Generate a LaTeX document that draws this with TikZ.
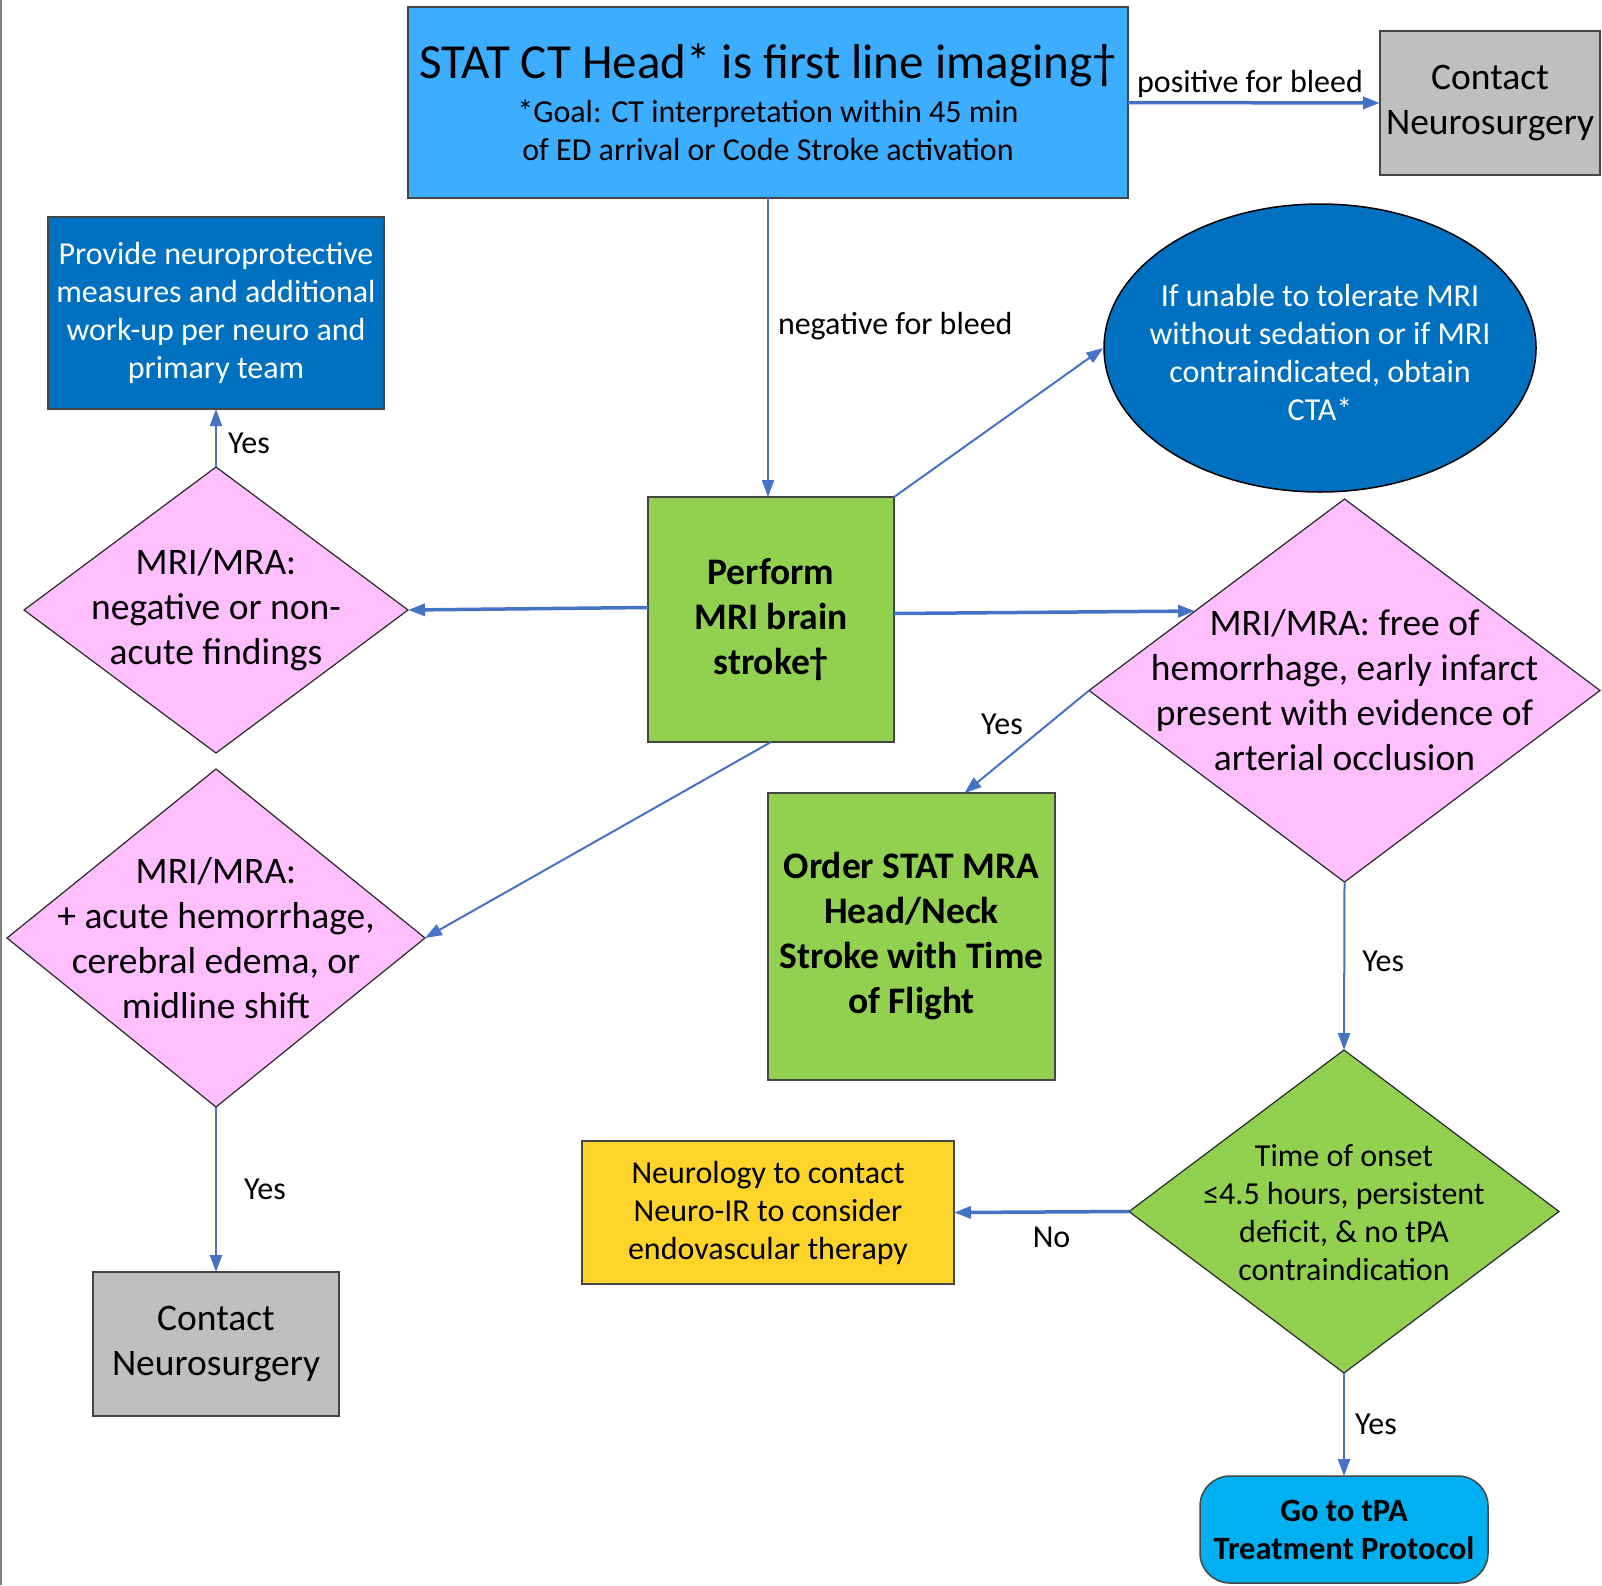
\documentclass[tikz,border=0pt]{standalone}
\usepackage{fontspec}
\setmainfont{Carlito}
\usetikzlibrary{shapes.geometric,arrows.meta}

\begin{document}
\begin{tikzpicture}[x=1pt,y=-1pt,
  box/.style={draw={rgb,255:red,70;green,70;blue,70},line width=1.5pt,inner sep=0pt,outer sep=0pt},
  dia/.style={diamond,draw={rgb,255:red,40;green,40;blue,40},line width=1.2pt,inner sep=0pt,outer sep=0pt},
  big/.style={font=\fontsize{37.5}{45}\selectfont,align=center},
  bigb/.style={font=\fontsize{37.5}{45}\selectfont\bfseries,align=center},
  small/.style={font=\fontsize{32}{38}\selectfont,align=center},
  smallb/.style={font=\fontsize{32.5}{38}\selectfont\bfseries,align=center},
  arr/.style={draw={rgb,255:red,68;green,114;blue,196},line width=2pt,-{Triangle[length=17pt,width=12pt]}},
  thickarr/.style={arr,line width=3.5pt},
  lbl/.style={font=\fontsize{32}{38}\selectfont,inner sep=3pt}]
\useasboundingbox (0,0) rectangle (1602,1585);
\draw[gray,line width=1.5pt] (0.75,0) -- (0.75,1585);

% boxes
\node[box,small,fill={rgb,255:red,61;green,173;blue,255},minimum width=720pt,minimum height=191pt] (ct) at (768,102.5)
  {{\fontsize{49}{49}\selectfont STAT CT Head* is first line imaging†}\\[6pt]*Goal: CT interpretation within 45 min\\of ED arrival or Code Stroke activation};
\node[box,big,fill={rgb,255:red,191;green,191;blue,191},minimum width=220pt,minimum height=144pt] (cn1) at (1490,103) {Contact\\Neurosurgery};
\node[box,small,text=white,fill={rgb,255:red,0;green,112;blue,192},minimum width=336pt,minimum height=192pt] (prov) at (216,313)
  {Provide neuroprotective\\measures and additional\\work-up per neuro and\\primary team};
\node[ellipse,draw=black,line width=1.5pt,inner sep=0pt,fill={rgb,255:red,0;green,112;blue,192},minimum width=432pt,minimum height=288pt] (ell) at (1320,348) {};
\node[small,text=white] (ellt) at (1320,352) {If unable to tolerate MRI\\without sedation or if MRI\\contraindicated, obtain\\CTA*};
\node[box,bigb,fill={rgb,255:red,146;green,208;blue,80},minimum width=246pt,minimum height=245pt] (perf) at (771,619.5) {Perform\\MRI brain\\stroke†};

% diamonds
\node[dia,fill={rgb,255:red,255;green,191;blue,255},minimum width=384pt,minimum height=286pt] (d1) at (216,610) {};
\node[big] (d1t) at (d1) {MRI/MRA:\\negative or non-\\acute findings};
\node[dia,fill={rgb,255:red,255;green,191;blue,255},minimum width=511pt,minimum height=383pt] (rd) at (1344.5,690.5) {};
\node[big] (rdt) at (rd) {MRI/MRA: free of\\hemorrhage, early infarct\\present with evidence of\\arterial occlusion};
\node[box,bigb,fill={rgb,255:red,146;green,208;blue,80},minimum width=287pt,minimum height=287pt] (ord) at (911.5,936.5) {Order STAT MRA\\Head/Neck\\Stroke with Time\\of Flight};
\node[dia,fill={rgb,255:red,255;green,191;blue,255},minimum width=418pt,minimum height=338pt] (d2) at (216,938) {};
\node[big] (d2t) at (d2) {MRI/MRA:\\+ acute hemorrhage,\\cerebral edema, or\\midline shift};
\node[dia,fill={rgb,255:red,146;green,208;blue,80},minimum width=430pt,minimum height=323pt] (tm) at (1344,1211.5) {};
\node[small] (tmt) at (1344,1213) {Time of onset\\≤4.5 hours, persistent\\deficit, \& no tPA\\contraindication};
\node[box,small,fill={rgb,255:red,254;green,212;blue,42},minimum width=372pt,minimum height=143pt] (neu) at (768,1212.5) {Neurology to contact\\Neuro-IR to consider\\endovascular therapy};
\node[box,big,fill={rgb,255:red,191;green,191;blue,191},minimum width=246pt,minimum height=144pt] (cn2) at (216,1344) {Contact\\Neurosurgery};
\node[box,smallb,rounded corners=30pt,fill={rgb,255:red,0;green,176;blue,240},minimum width=288pt,minimum height=107pt] (tpa) at (1344,1529.5) {Go to tPA\\Treatment Protocol};

% connectors
\draw[thickarr] (ct.east) -- node[lbl,above,xshift=-4pt] {positive for bleed} (cn1.west);
\draw[arr] (ct.south) -- node[lbl,right=6pt,pos=0.43] {negative for bleed} (ct.south |- perf.north);
\draw[arr] (perf.north east) -- (ell.west);
\draw[thickarr] ([yshift=12pt]perf.west) -- (d1.east);
\draw[thickarr] ([yshift=6pt]perf.east) -- (rd.152);
\draw[arr] (rd.west) -- node[lbl,above left,yshift=3pt] {Yes} ([xshift=53pt]ord.north);
\draw[arr] (perf.south) -- (d2.east);
\draw[arr] (d1.north) -- node[lbl,right=8pt,pos=0.4] {Yes} (prov.south);
\draw[arr] (rd.south) -- node[lbl,right=14pt,pos=0.47] {Yes} (tm.north);
\draw[thickarr] (tm.west) -- node[lbl,below=10pt,xshift=10pt] {No} (neu.east);
\draw[arr] (d2.south) -- node[lbl,right=24pt] {Yes} (cn2.north);
\draw[arr] (tm.south) -- node[lbl,right=7pt] {Yes} (tpa.north);
\end{tikzpicture}
\end{document}
